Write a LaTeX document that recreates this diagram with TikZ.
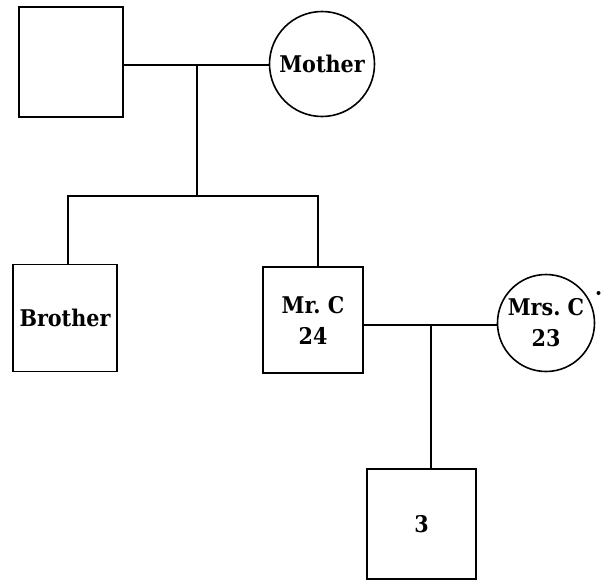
\documentclass[tikz,border=0pt]{standalone}
\usepackage{fontspec}
\setmainfont{DejaVu Serif Condensed}
\begin{document}
\begin{tikzpicture}[x=1pt,y=-1pt,
  line width=1.6pt,
  person/.style={draw, inner sep=0pt, align=center,
    font=\fontsize{23}{31}\selectfont\bfseries},
  male/.style={person, rectangle},
  female/.style={person, circle}]
\useasboundingbox (0,0) rectangle (602,581);

% parents' generation
\node[male, minimum width=104pt, minimum height=110pt] (fa) at (71,62) {};
\node[female, minimum size=105pt] (mo) at (322,64) {Mother};

% siblings
\node[male, minimum width=104pt, minimum height=107pt] (br) at (65,318) {Brother};
\node[male, minimum width=100pt, minimum height=106pt] (mc) at (313,320) {Mr.\ C\\24};

% spouse and child
\node[female, minimum size=97pt] (wc) at (546,323) {Mrs.\ C\\23};
\node[male, minimum width=109pt, minimum height=110pt] (ch) at (421.5,524) {3};

% junction points on the marriage and sibling lines
\coordinate (j1) at (197,65);
\coordinate (sib) at (196,196);
\coordinate (j2) at (431,325);

% marriage of the parents and line of descent
\draw (fa.east |- j1) -- (mo.west |- j1);
\draw (j1) -- (j1 |- sib);
\draw (br.north -| 68,0) |- (sib) -| (mc.north -| 318,0);

% marriage of Mr. C and Mrs. C and their child
\draw (mc.east |- j2) -- (wc.west |- j2);
\draw (j2) -- (j2 |- ch.north);

% small mark beside Mrs. C
\fill (598.5,293) circle (2pt);
\end{tikzpicture}
\end{document}
